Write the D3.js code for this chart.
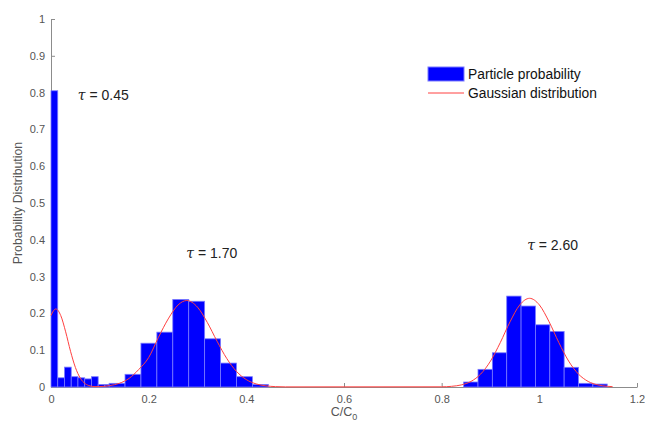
<!DOCTYPE html>
<html>
<head>
<meta charset="utf-8">
<script src="https://cdn.jsdelivr.net/npm/d3@7"></script>
<style>
  body { margin: 0; background: #fff; }
  svg text { font-family: "Liberation Sans", Arial, sans-serif; }
</style>
</head>
<body>
<div id="container"></div>
<script>
// histogram groups: first bin edge, bin width, bin heights
const leftStart = 0, leftWidth = 0.0138;
const leftValues = [0.805, 0.025, 0.054, 0.028, 0.025, 0.022, 0.028, 0.007, 0.007];
const midStart = 0.119, midWidth = 0.0326;
const midValues = [0.01, 0.0345, 0.119, 0.149, 0.238, 0.233, 0.131, 0.065, 0.028, 0.007];
const rightStart = 0.845, rightWidth = 0.0294;
const rightValues = [0.0136, 0.048, 0.093, 0.247, 0.22, 0.169, 0.151, 0.0535, 0.01, 0.008];

// gaussian curve, [x, y]
const gaussX = [0, 0.005, 0.01, 0.02, 0.03, 0.04, 0.05, 0.06, 0.07, 0.08, 0.09, 0.10,
  0.12, 0.14, 0.16, 0.18, 0.20, 0.22, 0.24, 0.26, 0.278, 0.30, 0.32, 0.34, 0.36, 0.38, 0.40, 0.42, 0.44, 0.46, 0.48,
  0.80, 0.82, 0.84, 0.86, 0.88, 0.90, 0.92, 0.94, 0.96, 0.98, 1.00, 1.02, 1.04, 1.06, 1.08, 1.10, 1.12, 1.14, 1.15];
const gaussY = [0.194, 0.207, 0.212, 0.194, 0.150, 0.097, 0.053, 0.024, 0.009, 0.003, 0.001, 0.0012,
  0.0038, 0.010, 0.0235, 0.048, 0.080, 0.1348, 0.185, 0.2227, 0.235, 0.2169, 0.1756, 0.1245, 0.0773, 0.0421, 0.0201, 0.0084, 0.0031, 0.001, 0.0003,
  0.0005, 0.0018, 0.0056, 0.0151, 0.0353, 0.0704, 0.1206, 0.1772, 0.2232, 0.241, 0.2232, 0.1772, 0.1206, 0.0704, 0.0353, 0.0151, 0.0056, 0.0018, 0.0009];

const tauLabels = ["0.45", "1.70", "2.60"];
const tauX = [0.055, 0.277, 0.975];
const tauY = [0.793, 0.364, 0.386];

const xTicks = [0, 0.2, 0.4, 0.6, 0.8, 1, 1.2];
const yTicks = [0, 0.1, 0.2, 0.3, 0.4, 0.5, 0.6, 0.7, 0.8, 0.9, 1];

const width = 645, height = 426;
const padding = { top: 19, bot: 39, left: 51, right: 8 };

const svg = d3.select("#container").append("svg")
  .attr("width", width).attr("height", height);

const xScale = d3.scaleLinear().domain([0, 1.2]).range([padding.left, width - padding.right]);
const yScale = d3.scaleLinear().domain([0, 1]).range([height - padding.bot, padding.top]);

const toBins = (start, w, vals) => vals.map((v, i) => ({ x0: start + i * w, x1: start + (i + 1) * w, v: v }));
const bins = toBins(leftStart, leftWidth, leftValues)
  .concat(toBins(midStart, midWidth, midValues))
  .concat(toBins(rightStart, rightWidth, rightValues));

// axes first (behind data)
const xAxis = d3.axisBottom(xScale).tickValues(xTicks).tickFormat(d3.format("~g"))
  .tickSizeInner(-4).tickSizeOuter(0).tickPadding(8);
const gx = svg.append("g")
  .attr("transform", "translate(0," + (height - padding.bot) + ")")
  .call(xAxis);
const yAxis = d3.axisLeft(yScale).tickValues(yTicks).tickFormat(d3.format("~g"))
  .tickSizeInner(-4).tickSizeOuter(0).tickPadding(6);
const gy = svg.append("g")
  .attr("transform", "translate(" + padding.left + ",0)")
  .call(yAxis);
[gx, gy].forEach(g => {
  g.selectAll("path, line").attr("stroke", "#8c8c8c");
  g.selectAll("text").attr("fill", "#555").style("font-size", "11px");
});

svg.append("g").selectAll("rect")
  .data(bins)
  .enter()
  .append("rect")
  .attr("x", d => xScale(d.x0))
  .attr("width", d => xScale(d.x1) - xScale(d.x0))
  .attr("y", d => yScale(d.v))
  .attr("height", d => yScale(0) - yScale(d.v))
  .attr("fill", "#0000ff")
  .attr("stroke", "#7a7aff")
  .attr("stroke-width", 0.8);

const curvePts = gaussX.map((x, i) => [x, gaussY[i]]);
svg.append("path")
  .datum(curvePts)
  .attr("fill", "none")
  .attr("stroke", "#ff4040")
  .attr("stroke-width", 1)
  .attr("d", d3.line().x(d => xScale(d[0])).y(d => yScale(d[1])).curve(d3.curveMonotoneX));

// tau annotations
tauLabels.forEach((t, i) => {
  const txt = svg.append("text")
    .attr("x", xScale(tauX[i]))
    .attr("y", yScale(tauY[i]) + 5)
    .attr("fill", "#222")
    .style("font-size", "14px");
  txt.append("tspan").attr("font-style", "italic").attr("font-family", "DejaVu Serif, serif").text("\u03c4");
  txt.append("tspan").text(" = " + t);
});

// legend
const leg = svg.append("g").attr("transform", "translate(428,67)");
leg.append("rect").attr("width", 36).attr("height", 14).attr("fill", "#0000ff").attr("stroke", "#7a7aff");
leg.append("text").attr("x", 40).attr("y", 12).text("Particle probability").attr("fill", "#111").style("font-size", "13.8px");
leg.append("line").attr("x1", 0).attr("x2", 36).attr("y1", 26).attr("y2", 26).attr("stroke", "#ff4040");
leg.append("text").attr("x", 40).attr("y", 31).text("Gaussian distribution").attr("fill", "#111").style("font-size", "13.8px");

// axis labels
const xl = svg.append("text")
  .attr("x", (padding.left + width - padding.right) / 2)
  .attr("y", 416)
  .attr("text-anchor", "middle")
  .attr("fill", "#555")
  .style("font-size", "12.5px");
xl.append("tspan").text("C/C");
xl.append("tspan").attr("dy", 4).style("font-size", "9px").text("0");

svg.append("text")
  .text("Probability Distribution")
  .attr("text-anchor", "middle")
  .attr("fill", "#555")
  .style("font-size", "12.3px")
  .attr("transform", "translate(22," + (padding.top + height - padding.bot) / 2 + ")rotate(-90)");
</script>
</body>
</html>
